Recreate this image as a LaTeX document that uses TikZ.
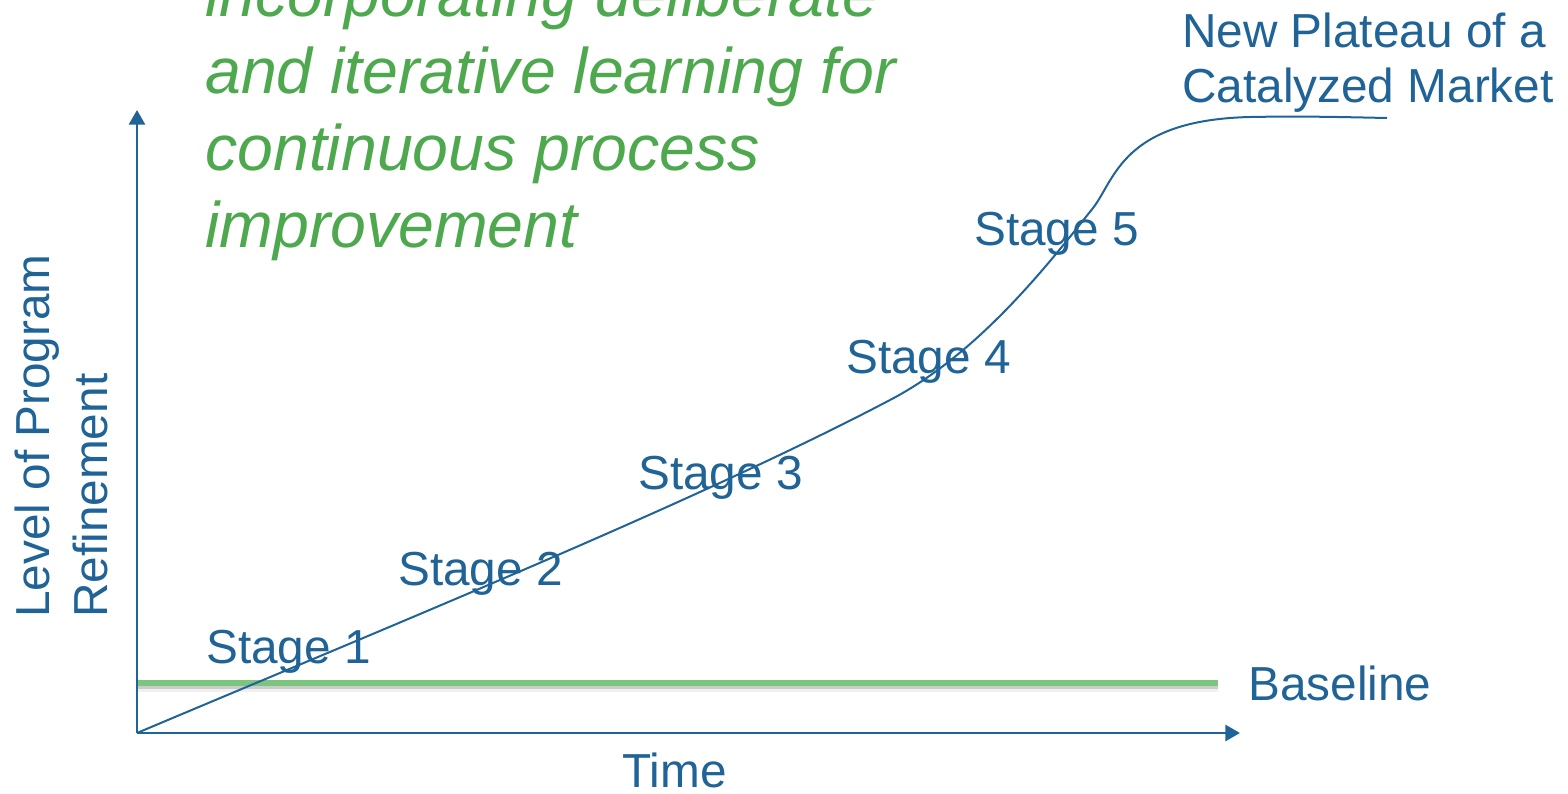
\documentclass[tikz,border=0pt]{standalone}
\usepackage{fontspec}
\setmainfont{Liberation Sans}
\usetikzlibrary{arrows.meta}

\definecolor{axisblue}{HTML}{1F6397}
\definecolor{notegreen}{HTML}{4EA84E}
\definecolor{basegreen}{HTML}{7DC47F}

\begin{document}
\begin{tikzpicture}[x=0.75pt,y=-0.75pt,
  bluetext/.style={text=axisblue, font=\fontsize{35.8}{43}\selectfont, anchor=base west, inner sep=0pt},
  greentext/.style={text=notegreen, font=\fontsize{48.3}{58}\selectfont\itshape, anchor=base west, inner sep=0pt},
  axisline/.style={draw=axisblue, line width=2.2pt, -{Triangle[length=11pt,width=12pt]}},
  growth/.style={draw=axisblue, line width=1.5pt},
  baseline line/.style={draw=basegreen, line width=3.8pt},
  baseline shadow/.style={draw=black, line width=4pt, opacity=0.15}]

\useasboundingbox (0,0) rectangle (1568,793);

% axes
\coordinate (O) at (137,733);
\coordinate (ytip) at (137,110);
\coordinate (xtip) at (1240,733);

% baseline with its soft shadow
\coordinate (b0) at (137,683);
\coordinate (b1) at (1218,683);
\draw[baseline shadow, line width=7pt, opacity=0.06] ([yshift=-3pt]b0) -- ([yshift=-3pt]b1);
\draw[baseline shadow] ([yshift=-2.5pt]b0) -- ([yshift=-2.5pt]b1);
\draw[baseline line] (b0) -- (b1);

\draw[axisline] (O) -- (ytip);
\draw[axisline] (O) -- (xtip);

% growth curve up to the new plateau
\coordinate (p1) at (890,400);
\coordinate (p2) at (1093,208);
\coordinate (p3) at (1250,117);
\coordinate (pend) at (1387,118);
\draw[growth] (O) .. controls (400,622) and (700,500) .. (p1)
  .. controls (980,353) and (1050,262) .. (p2)
  .. controls (1115,180) and (1122,120) .. (p3)
  .. controls (1300,116) and (1340,117) .. (pend);

% stage labels
\node[bluetext] (s1) at (206,663) {Stage 1};
\node[bluetext] (s2) at (398,585) {Stage 2};
\node[bluetext] (s3) at (638,489) {Stage 3};
\node[bluetext] (s4) at (846,373) {Stage 4};
\node[bluetext] (s5) at (974,245) {Stage 5};

\node[bluetext] (base) at (1248,700) {Baseline};
\node[bluetext] (time) at (622,787) {Time};
\node[bluetext] (plat1) at (1182,47) {New Plateau of a};
\node[bluetext] (plat2) at (1182,102) {Catalyzed Market};

% vertical axis title
\node[bluetext, rotate=90] (ylab1) at (50,618) {Level of Program};
\node[bluetext, rotate=90] (ylab2) at (107,618) {Refinement};

% note
\node[greentext] (n1) at (205,16) {incorporating deliberate};
\node[greentext] (n2) at (205,93) {and iterative learning for};
\node[greentext] (n3) at (205,170) {continuous process};
\node[greentext] (n4) at (205,247) {improvement};

\end{tikzpicture}
\end{document}
